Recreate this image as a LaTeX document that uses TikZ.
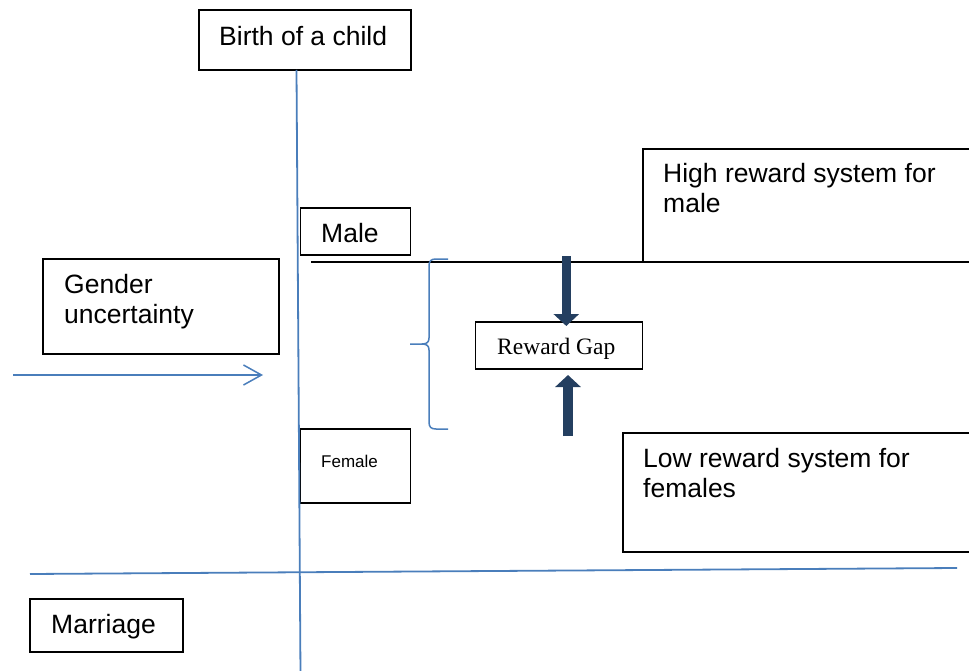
\documentclass[tikz,border=0pt]{standalone}
\usepackage{fontspec}
\setmainfont{Liberation Sans}
\newfontfamily\timesfont{Liberation Serif}
\usetikzlibrary{arrows.meta}
\definecolor{lineblue}{HTML}{4A7EBB}
\definecolor{navyarrow}{HTML}{243F60}
\begin{document}
\begin{tikzpicture}[x=1pt,y=-1pt,
  box/.style={draw=black, line width=1.3pt, inner sep=0pt},
  txt/.style={anchor=base west, inner sep=0pt, font=\fontsize{26.5}{30}\selectfont, align=left},
  blueline/.style={draw=lineblue, line width=1.8pt},
  bigarrow/.style={draw=navyarrow, line width=9.5pt, -{Triangle[length=12pt,width=25pt]}}]
\useasboundingbox (0,0) rectangle (969,671);
\clip (0,0) rectangle (969,671);
% boxes
\node[box, minimum width=212pt, minimum height=60pt] (birth) at (305,40) {};
\node[txt] (birthT) at (219,46) {Birth of a child};
\draw[line width=1.3pt] (643,262) -- (643,149) -- (990,149);
\node[txt] (highT) at (663,213) {High reward system for\\male};
\node[box, minimum width=110pt, minimum height=47pt] (male) at (355.7,231.5) {};
\node[txt] (maleT) at (321,242) {Male};
\node[box, minimum width=236pt, minimum height=95pt] (gender) at (161,306.5) {};
\node[txt] (genderT) at (64,323) {Gender\\uncertainty};
\node[box, minimum width=167pt, minimum height=47pt] (gap) at (559.2,345.5) {};
\node[anchor=base west, inner sep=0pt, font=\timesfont\fontsize{23.5}{27}\selectfont] (gapT) at (497,354) {Reward Gap};
\node[box, minimum width=110pt, minimum height=74pt] (female) at (355.7,466) {};
\node[anchor=base west, inner sep=0pt, font=\fontsize{17}{20}\selectfont] (femaleT) at (321,467) {Female};
\draw[line width=1.3pt] (990,433) -- (623,433) -- (623,552) -- (990,552);
\node[txt] (lowT) at (643,497) {Low reward system for\\females};
\node[box, minimum width=153pt, minimum height=53pt] (marriage) at (106.5,625.5) {};
\node[txt] (marriageT) at (51,633) {Marriage};
% lines
\coordinate (vtop) at (296.5,70);
\coordinate (vbot) at (300.5,675);
\draw[blueline] (vtop) -- (vbot);
\coordinate (hl) at (30,574);
\coordinate (hr) at (957,568);
\draw[blueline] (hl) -- (hr);
\coordinate (bl) at (311,262);
\coordinate (br) at (975,262);
\draw[black, line width=1.8pt] (bl) -- (br);
\coordinate (aL) at (13,375);
\coordinate (aR) at (263,375);
\draw[draw=lineblue, line width=1.5pt, -{Straight Barb[length=18pt,width=20pt]}] (aL) -- (aR);
% brace
\draw[draw=lineblue, line width=1.5pt] (448,259) -- (436,259) .. controls (431,259) and (429,261) .. (429,266) -- (429,338) .. controls (429,342) and (427,344) .. (422,344) -- (410,344)
  (422,344) .. controls (427,344) and (429,346) .. (429,350) -- (429,422) .. controls (429,427) and (431,429) .. (436,429) -- (448,429);
% reward gap arrows
\coordinate (dtop) at (566.3,256);
\coordinate (dtip) at (566.3,326);
\draw[bigarrow] (dtop) -- (dtip);
\coordinate (ubot) at (568,436);
\coordinate (utip) at (568,375);
\draw[bigarrow] (ubot) -- (utip);
\end{tikzpicture}
\end{document}
